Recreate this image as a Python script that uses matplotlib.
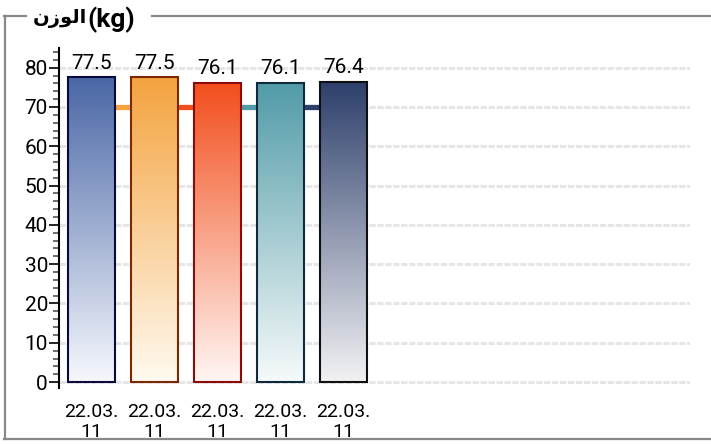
import numpy as np
import matplotlib.pyplot as plt
from matplotlib.colors import LinearSegmentedColormap
from matplotlib.lines import Line2D

plt.rcParams['font.family'] = ['Roboto', 'DejaVu Sans']

# weight readings
dates = ['22.03.\n11', '22.03.\n11', '22.03.\n11', '22.03.\n11', '22.03.\n11']
weights = [77.5, 77.5, 76.1, 76.1, 76.4]
goal = [70, 70, 70, 70, 70]

top_colors = ['#4a67a6', '#f4a33f', '#f24e1c', '#519ba8', '#2d3f6b']
bottom_colors = ['#f6f8fd', '#fffaf0', '#fff6f3', '#f6fafa', '#f2f2f4']
edge_colors = ['#0a0a3a', '#7a2800', '#8b0a0a', '#0f2a3a', '#101010']

# title: الوزن (pre-shaped, visual order) followed by the unit
title_word = '\ufee5\ufeaf\ufeee\ufedf\ufe8d'
title_unit = '(kg)'

fig = plt.figure(figsize=(7.11, 4.44), dpi=100)
ax = fig.add_axes([59 / 711, 1 - 388 / 444, 631 / 711, 340 / 444])

x = np.arange(len(weights))
width = 0.746

# dashed grid
for v in range(0, 81, 10):
    ax.axhline(v, color='#e6e6e6', lw=2.2, ls=(0, (2.1, 0.5)), zorder=0)

# goal line, each segment takes the colour of the next bar
for i in range(1, len(x)):
    ax.plot(x[i - 1:i + 1], goal[i - 1:i + 1], color=top_colors[i],
            lw=3.8, solid_capstyle='butt', zorder=1)

grad = np.linspace(0, 1, 256).reshape(-1, 1)
bars = ax.bar(x, weights, width=width, facecolor='none',
              edgecolor=edge_colors, linewidth=1.5, zorder=3)
for i, b in enumerate(bars):
    cmap = LinearSegmentedColormap.from_list('g%d' % i, [bottom_colors[i], top_colors[i]])
    im = ax.imshow(grad, cmap=cmap, aspect='auto', origin='lower',
                   extent=[b.get_x(), b.get_x() + width, 0, weights[i]], zorder=2)
    im.set_clip_path(b)
    ax.annotate('%.1f' % weights[i], (x[i], weights[i]), xytext=(0, 3.5),
                textcoords='offset points', ha='center', va='bottom', fontsize=15)

ax.set_xlim(-0.516, 9.5)
ax.set_ylim(-1.5, 85)

ax.set_xticks(x)
ax.set_xticklabels(dates, fontsize=14, linespacing=1.1)
ax.tick_params(axis='x', length=0, pad=11)
ax.set_yticks(range(0, 81, 10))
ax.set_yticks(range(0, 85, 2), minor=True)
ax.tick_params(axis='y', which='major', length=7, width=1.2, labelsize=15, pad=1)
ax.tick_params(axis='y', which='minor', length=4.5, width=1.2, color='#555555')

for s in ['top', 'right', 'bottom']:
    ax.spines[s].set_visible(False)
ax.spines['left'].set_linewidth(1.5)

# fieldset frame around the chart
W, H = 711, 444
def px(xp, yp):
    return xp / W, 1 - yp / H

frame = dict(color='#888888', lw=1.6, transform=fig.transFigure, zorder=5)
for (x0, y0), (x1, y1) in [((5, 16), (5, 439)), ((4, 16), (26, 16)),
                           ((152, 16), (711, 16)), ((4, 439), (711, 439))]:
    a, b = px(x0, y0)
    c, d = px(x1, y1)
    fig.add_artist(Line2D([a, c], [b, d], **frame))

tx, ty = px(87, 20)
fig.text(tx, ty + 0.004, title_word, fontsize=14, fontweight='bold', ha='right', va='center',
         family=['DejaVu Sans'])
fig.text(tx, ty, title_unit, fontsize=19, fontweight='bold', ha='left', va='center')

fig.savefig('out.png', dpi=100)
